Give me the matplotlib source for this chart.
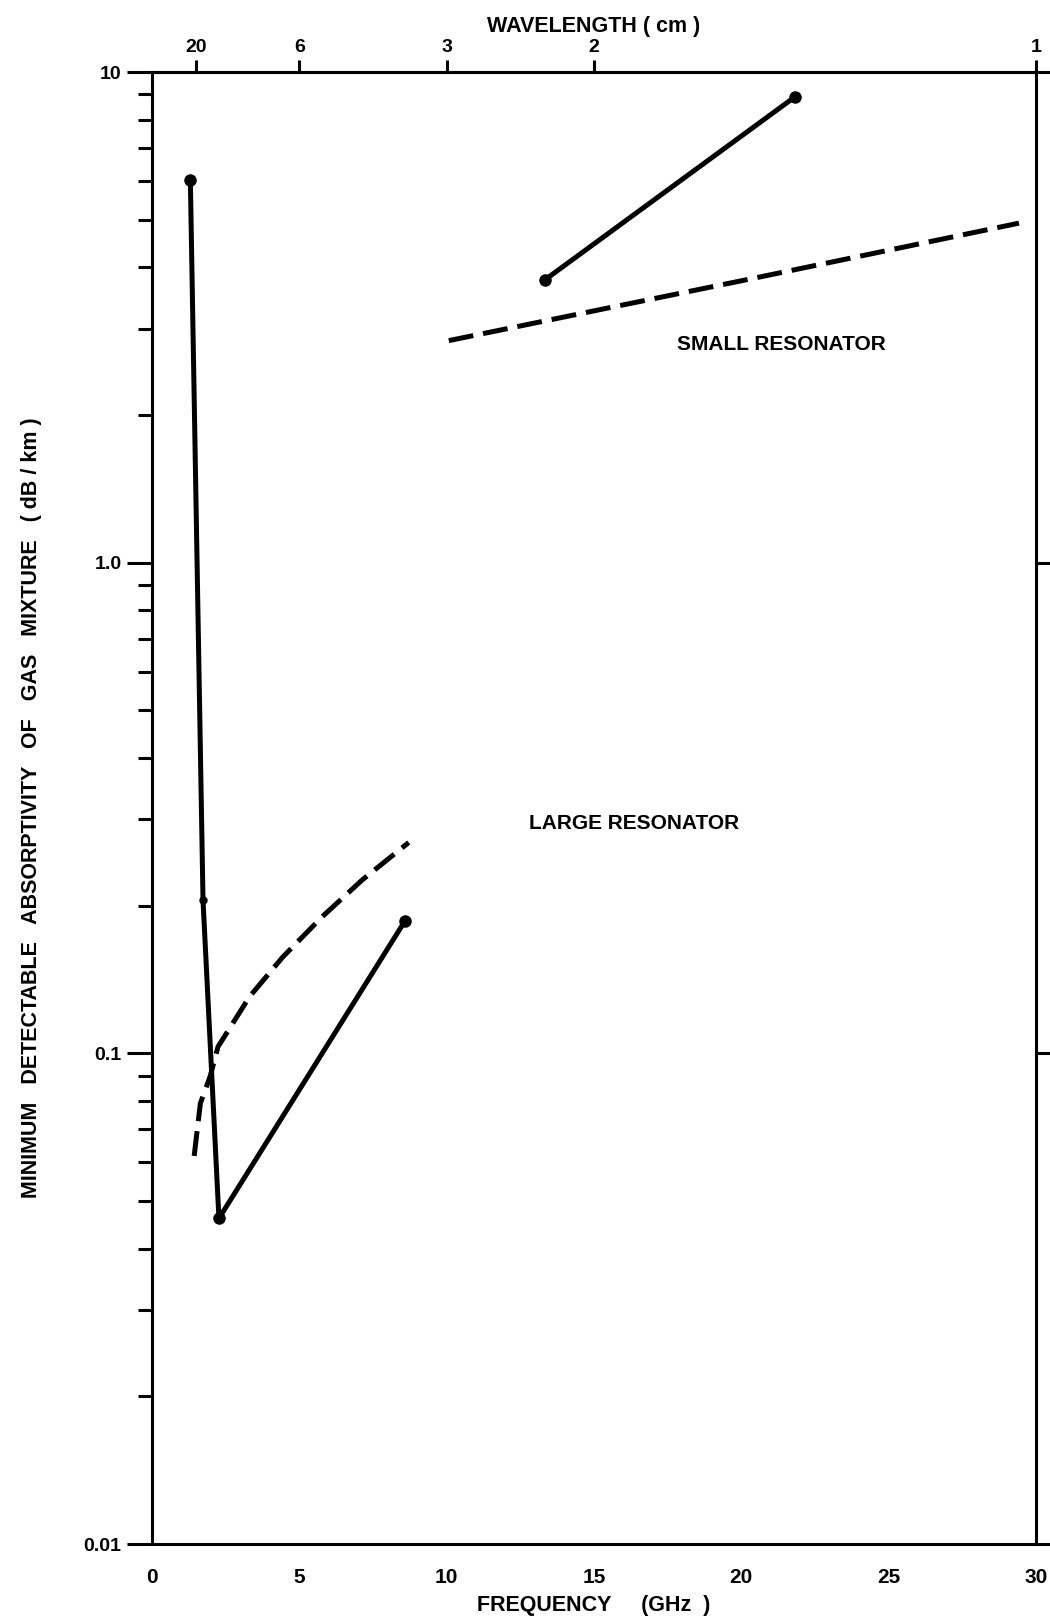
import matplotlib
matplotlib.use("Agg")
import matplotlib.pyplot as plt
from matplotlib.ticker import FixedLocator, LogLocator, NullFormatter, FixedFormatter

# ---- data ----
large_solid_f = [1.30, 1.73, 2.27, 8.58]
large_solid_a = [6.03, 0.205, 0.0461, 0.186]
large_marker_f = [1.30, 2.27, 8.58]
large_marker_a = [6.03, 0.0461, 0.186]
large_small_marker_f = [1.73]
large_small_marker_a = [0.205]

large_dash_f = [1.43, 1.64, 1.97, 2.24, 3.31, 4.43, 5.78, 7.13, 8.71]
large_dash_a = [0.0618, 0.0791, 0.0897, 0.1032, 0.1305, 0.157, 0.190, 0.2256, 0.269]

small_solid_f = [13.33, 21.83]
small_solid_a = [3.77, 8.91]

small_dash_f = [10.07, 15.0, 20.43, 29.42]
small_dash_a = [2.835, 3.26, 3.80, 4.92]

freq_ticks = [0, 5, 10, 15, 20, 25, 30]
y_ticks = [0.01, 0.1, 1.0, 10]
y_tick_labels = ["0.01", "0.1", "1.0", "10"]
wavelength_cm = [20, 6, 3, 2, 1]

FONT = ["Liberation Sans", "DejaVu Sans"]
plt.rcParams["font.family"] = FONT
plt.rcParams["font.weight"] = "bold"

fig = plt.figure(figsize=(10.5, 16.18), dpi=100)
ax = fig.add_axes([0.1448, 0.0457, 0.9867 - 0.1448, 0.9555 - 0.0457])

ax.set_xscale("linear")
ax.set_yscale("log")
ax.set_xlim(0, 30)
ax.set_ylim(0.01, 10)

lw = 3.6
ax.plot(large_solid_f, large_solid_a, color="black", lw=lw, solid_capstyle="round",
        solid_joinstyle="round")
ax.plot(large_marker_f, large_marker_a, "o", color="black", ms=8)
ax.plot(large_small_marker_f, large_small_marker_a, "o", color="black", ms=5)
ax.plot(large_dash_f, large_dash_a, color="black", lw=lw, dashes=(5.0, 2.0))
ax.plot(small_solid_f, small_solid_a, color="black", lw=lw, solid_capstyle="round")
ax.plot(small_solid_f, small_solid_a, "o", color="black", ms=8)
ax.plot(small_dash_f, small_dash_a, color="black", lw=lw, dashes=(5.0, 2.0))

ax.text(21.35, 2.785, "SMALL RESONATOR", ha="center", va="center", fontsize=15,
        fontweight="bold")
ax.text(16.35, 0.2935, "LARGE RESONATOR", ha="center", va="center", fontsize=15,
        fontweight="bold")

for s in ax.spines.values():
    s.set_linewidth(2.2)

# left axis
ax.yaxis.set_major_locator(FixedLocator(y_ticks))
ax.yaxis.set_major_formatter(FixedFormatter(y_tick_labels))
ax.yaxis.set_minor_locator(LogLocator(base=10, subs=range(2, 10)))
ax.yaxis.set_minor_formatter(NullFormatter())
ax.tick_params(axis="y", which="major", direction="out", length=18, width=2.2,
               labelsize=14, pad=4, right=True, labelright=False)
ax.tick_params(axis="y", which="minor", direction="out", length=10, width=2.2,
               right=False)

# bottom axis
ax.xaxis.set_major_locator(FixedLocator(freq_ticks))
ax.tick_params(axis="x", which="major", direction="out", length=0, labelsize=15, pad=17)
for lab in ax.get_xticklabels() + ax.get_yticklabels():
    lab.set_fontweight("bold")

ax.set_xlabel("FREQUENCY     (GHz  )", fontsize=15.5, fontweight="bold", labelpad=6)
ax.set_ylabel("MINIMUM   DETECTABLE   ABSORPTIVITY   OF   GAS   MIXTURE   ( dB / km )",
              fontsize=15.5, fontweight="bold", labelpad=30)

# top wavelength axis
top = ax.secondary_xaxis("top")
top.set_xticks([30.0 / w for w in wavelength_cm])
top.set_xticklabels([str(w) for w in wavelength_cm])
top.tick_params(direction="out", length=9, width=2.2, labelsize=14, pad=2.5)
for lab in top.get_xticklabels():
    lab.set_fontweight("bold")
top.spines["top"].set_linewidth(2.2)
top.set_xlabel("WAVELENGTH ( cm )", fontsize=15.5, fontweight="bold", labelpad=5)

fig.savefig("out.png", dpi=100)
